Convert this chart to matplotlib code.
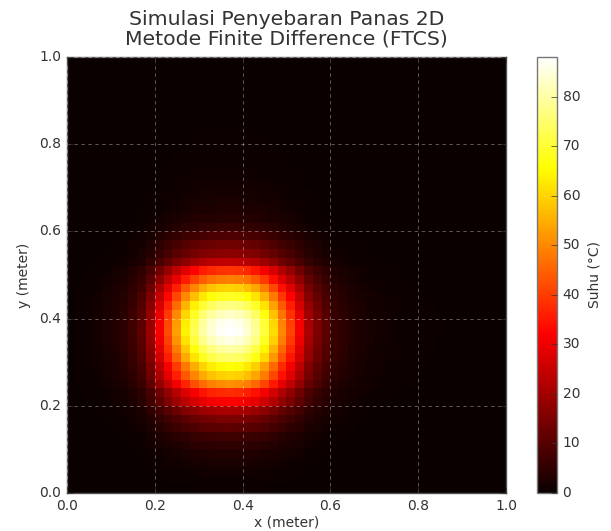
import numpy as np
import matplotlib
matplotlib.use("Agg")
import matplotlib.pyplot as plt

plt.style.use("classic")
plt.rcParams["font.family"] = ["DejaVu Sans"]

# Temperature along the hottest row (index i = x cell, 50 cells over 0..1 m)
row_temp = [0.3, 0.6, 1.0, 1.5, 2.2, 3.2, 4.6, 7.0, 11.0, 19.0,
            31.0, 42.0, 53.0, 64.0, 73.0, 80.0, 84.5, 87.0, 88.0, 87.0,
            84.0, 79.0, 71.0, 61.0, 50.0, 41.0, 31.0, 21.0, 15.0, 10.5,
            6.5, 4.6, 3.3, 2.4, 1.8, 1.4, 1.1, 0.9, 0.7, 0.6,
            0.5, 0.4, 0.35, 0.3, 0.25, 0.2, 0.15, 0.1, 0.07, 0.03]

# Temperature along the hottest column (index j = y cell, from bottom)
col_temp = [0.4, 0.8, 1.2, 2.2, 3.3, 5.0, 7.0, 11.0, 15.0, 21.0,
            32.0, 38.0, 51.0, 60.0, 66.0, 75.0, 80.0, 85.5, 88.0, 87.0,
            83.0, 77.0, 69.0, 60.0, 49.0, 39.0, 24.0, 17.0, 13.3, 9.0,
            5.7, 3.8, 2.8, 2.1, 1.6, 1.3, 1.0, 0.8, 0.65, 0.55,
            0.45, 0.38, 0.32, 0.26, 0.21, 0.17, 0.13, 0.09, 0.06, 0.03]

peak_temp = 88.0
boundary_temp = 0.0
x_ticks = [0.0, 0.2, 0.4, 0.6, 0.8, 1.0]
y_ticks = [0.0, 0.2, 0.4, 0.6, 0.8, 1.0]
cbar_ticks = [0, 10, 20, 30, 40, 50, 60, 70, 80]

# separable field built from the two profiles
T = np.outer(np.array(col_temp), np.array(row_temp)) / peak_temp

txt = "#333333"
fig = plt.figure(figsize=(6.11, 5.31), dpi=100)
fig.patch.set_facecolor("white")
ax = fig.add_axes([67/611, 1-493/531, 439/611, 436/531])
cax = fig.add_axes([537/611, 1-493/531, 20/611, 436/531])

im = ax.imshow(T, cmap="hot", origin="lower", extent=[0, 1, 0, 1],
               interpolation="nearest", aspect="auto",
               vmin=boundary_temp, vmax=T.max())
ax.set_xticks(x_ticks)
ax.set_yticks(y_ticks)
ax.tick_params(labelsize=10, colors=txt, labelcolor=txt)
ax.grid(True, color="white", linestyle=(0, (2.5, 2.5)), linewidth=0.6, alpha=0.4)
ax.set_xlabel("x (meter)", fontsize=10, color=txt, labelpad=2)
ax.set_ylabel("y (meter)", fontsize=10, color=txt, labelpad=6)
ax.set_title("Simulasi Penyebaran Panas 2D\nMetode Finite Difference (FTCS)",
             fontsize=14.7, color=txt, linespacing=1.05, pad=9)
for s in ax.spines.values():
    s.set_edgecolor("#555555")

cb = fig.colorbar(im, cax=cax, ticks=cbar_ticks)
cb.ax.tick_params(labelsize=10, colors=txt, labelcolor=txt)
cb.set_label("Suhu (°C)", fontsize=10, color=txt)
cb.outline.set_edgecolor("#777777")

fig.savefig("out.png", dpi=100, facecolor="white")
